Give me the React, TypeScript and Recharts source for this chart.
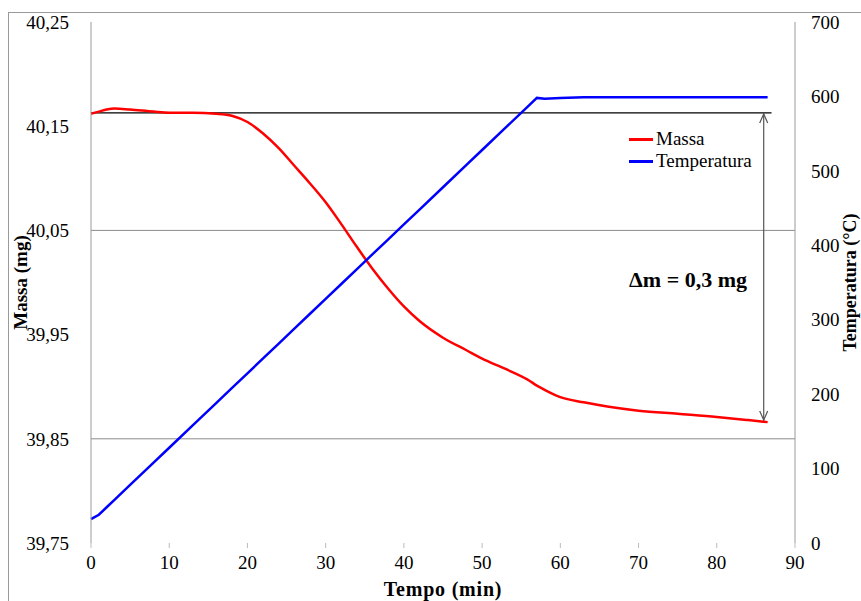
import { LineChart, Line, XAxis, YAxis, ReferenceLine, Label } from 'recharts';

// Tempo (min)
const TIME = [0, 1, 2, 3, 5, 8, 10, 13, 16, 18, 20, 22, 24, 26, 28, 30, 32, 34, 36, 38, 40, 42, 45, 48, 50, 53, 56, 57, 58, 60, 63, 66, 70, 75, 80, 84, 86.5];
// Massa (mg)
const MASSA = [40.162, 40.164, 40.166, 40.167, 40.166, 40.164, 40.163, 40.163, 40.162, 40.16, 40.154, 40.143, 40.129, 40.112, 40.095, 40.077, 40.056, 40.034, 40.013, 39.994, 39.977, 39.963, 39.947, 39.935, 39.927, 39.917, 39.906, 39.901, 39.897, 39.89, 39.885, 39.881, 39.877, 39.874, 39.871, 39.868, 39.866];
// Temperatura (°C)
const TEMP = [32, 38, 48, 58, 78, 108, 128, 158, 188, 208, 228, 248, 268, 288, 308, 328, 348, 368, 388, 408, 428, 448, 478, 508, 528, 558, 588, 598, 597, 598, 599, 599, 599, 599, 599, 599, 599];

const X_TICKS = [0, 10, 20, 30, 40, 50, 60, 70, 80, 90];
const MASS_TICKS = [39.75, 39.85, 39.95, 40.05, 40.15, 40.25];
const TEMP_TICKS = [0, 100, 200, 300, 400, 500, 600, 700];
const GRID_MASS = [40.05, 39.85];

const MASS_START = 40.1627;
const MASS_END = 39.867;
const ARROW_T = 86;

const LEGEND = [
    { label: 'Massa', color: '#ff0000' },
    { label: 'Temperatura', color: '#0000ff' },
];

const data = TIME.map((t, i) => ({ t, massa: MASSA[i], temp: TEMP[i] }));

const FONT = '"Liberation Serif", "Times New Roman", serif';

const DoubleArrow = (props: any) => {
    const { x1, y1, x2, y2 } = props;
    const top = Math.min(y1, y2);
    const bot = Math.max(y1, y2);
    return (
        <g stroke="#555" strokeWidth={1.2} fill="none">
            <line x1={x1} y1={top} x2={x2} y2={bot} />
            <polyline points={`${x1 - 4},${top + 10} ${x1},${top + 1} ${x1 + 4},${top + 10}`} />
            <polyline points={`${x1 - 4},${bot - 10} ${x1},${bot - 1} ${x1 + 4},${bot - 10}`} />
        </g>
    );
};

const fmtMass = (v: number) => v.toFixed(2).replace('.', ',');

const tickStyle = { fill: '#000', fontSize: 19, fontFamily: FONT };
const titleStyle = { fill: '#000', fontSize: 19, fontWeight: 'bold', fontFamily: FONT, textAnchor: 'middle' } as any;

export default function App() {
    return (
        <div style={{ position: 'absolute', left: 0, top: 0, width: 861, height: 601, background: '#fff', overflow: 'hidden', fontFamily: FONT }}>
            <style>{`
                .recharts-cartesian-axis-tick text,
                .recharts-cartesian-axis-tick-value {
                    font-family: "Liberation Serif", "Times New Roman", serif !important;
                    font-size: 19px !important;
                }
            `}</style>
            <div style={{ position: 'absolute', left: 8, top: 12, width: 900, height: 650, border: '1px solid #9a9a9a' }} />
            <div style={{ position: 'absolute', left: 0, top: 0 }}>
                <LineChart width={861} height={601} data={data} margin={{ top: 22, right: 0, bottom: 0, left: 0 }}>
                    <XAxis
                        dataKey="t"
                        type="number"
                        domain={[0, 90]}
                        ticks={X_TICKS}
                        height={58}
                        axisLine={false}
                        tickLine={{ stroke: '#bbb' }}
                        tickSize={5}
                        tickMargin={8}
                        tick={tickStyle}
                    >
                        <Label value="Tempo (min)" position="insideBottom" offset={5} style={{ ...titleStyle, fontSize: 20, letterSpacing: 0.8 }} />
                    </XAxis>
                    <YAxis
                        yAxisId="m"
                        orientation="left"
                        type="number"
                        domain={[39.75, 40.25]}
                        ticks={MASS_TICKS}
                        width={91}
                        axisLine={{ stroke: '#9a9a9a' }}
                        tickLine={false}
                        tickMargin={16}
                        tickFormatter={fmtMass}
                        tick={tickStyle}
                    >
                        <Label value="Massa (mg)" angle={-90} position="insideLeft" offset={20} style={titleStyle} />
                    </YAxis>
                    <YAxis
                        yAxisId="t"
                        orientation="right"
                        type="number"
                        domain={[0, 700]}
                        ticks={TEMP_TICKS}
                        width={66}
                        axisLine={{ stroke: '#9a9a9a' }}
                        tickLine={false}
                        tickMargin={10}
                        tick={tickStyle}
                    >
                        <Label value="Temperatura (°C)" angle={-90} position="insideRight" offset={11} style={{ ...titleStyle, fontSize: 18 }} />
                    </YAxis>
                    {GRID_MASS.map((g) => (
                        <ReferenceLine key={g} yAxisId="m" y={g} stroke="#8a8a8a" strokeWidth={1} />
                    ))}
                    <ReferenceLine
                        yAxisId="m"
                        segment={[{ x: 0, y: MASS_START }, { x: 87, y: MASS_START }]}
                        stroke="#000"
                        strokeWidth={1.2}
                    />
                    <ReferenceLine
                        yAxisId="m"
                        segment={[{ x: ARROW_T, y: MASS_START }, { x: ARROW_T, y: MASS_END }]}
                        shape={DoubleArrow}
                    />
                    <ReferenceLine yAxisId="m" y={40.0} stroke="none">
                        <Label
                            value="Δm = 0,3 mg"
                            position="insideRight"
                            offset={48}
                            dy={-3}
                            style={{ fill: '#000', fontSize: 22, fontWeight: 'bold', fontFamily: FONT }}
                        />
                    </ReferenceLine>
                    <Line yAxisId="m" dataKey="massa" name="Massa" type="monotone" stroke="#ff0000" strokeWidth={2.5} dot={false} isAnimationActive={false} />
                    <Line yAxisId="t" dataKey="temp" name="Temperatura" type="linear" stroke="#0000ff" strokeWidth={2.5} dot={false} isAnimationActive={false} />
                </LineChart>
            </div>
            <div style={{ position: 'absolute', left: 629, top: 128, fontSize: 19, color: '#000', lineHeight: '22px' }}>
                {LEGEND.map((it) => (
                    <div key={it.label} style={{ display: 'flex', alignItems: 'center' }}>
                        <span style={{ display: 'inline-block', width: 24, height: 3, background: it.color, marginRight: 3 }} />
                        <span>{it.label}</span>
                    </div>
                ))}
            </div>
        </div>
    );
}
